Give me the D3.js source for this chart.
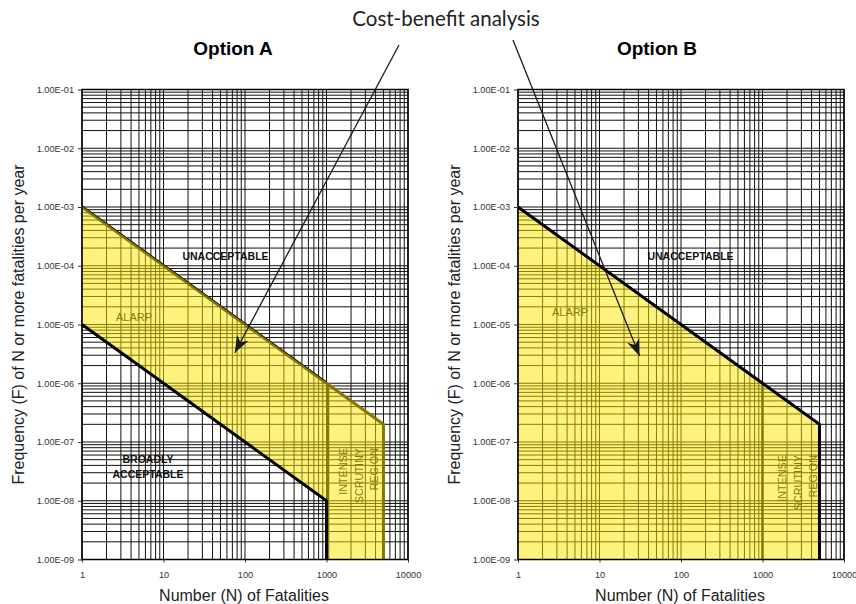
<!DOCTYPE html>
<html>
<head>
<meta charset="utf-8">
<script src="https://cdn.jsdelivr.net/npm/d3@7"></script>
<style>
  html, body { margin: 0; padding: 0; background: #fff; }
  svg { display: block; }
</style>
</head>
<body>
<svg id="chart" width="856" height="604"></svg>
<script>
// ---- data ----
const panelTitles = ["Option A", "Option B"];
const xTickValues = [1, 10, 100, 1000, 10000];
const xTickLabels = ["1", "10", "100", "1000", "10000"];
const yTickValues = [1e-1, 1e-2, 1e-3, 1e-4, 1e-5, 1e-6, 1e-7, 1e-8, 1e-9];
const yTickLabels = ["1.00E-01", "1.00E-02", "1.00E-03", "1.00E-04", "1.00E-05",
                     "1.00E-06", "1.00E-07", "1.00E-08", "1.00E-09"];
// upper (unacceptable) criterion line, N vs F
const upperN = [1, 1000, 5000];
const upperF = [1e-3, 1e-6, 2e-7];
// lower (broadly acceptable) criterion line, Option A only
const lowerN = [1, 1000];
const lowerF = [1e-5, 1e-8];
// intense scrutiny starts at N = 1000
const scrutinyN = 1000;
// arrow targets in the ALARP region (N, F) for each option
const arrowTargetN = [75, 31];
const arrowTargetF = [3.3e-6, 2.9e-6];

// ---- layout ----
const svg = d3.select("#chart");
const plotTop = 89.5, plotBottom = 559.5;
const panels = [
  { left: 82, right: 408, titleX: 233, yTitleX: 24, arrowFrom: [399, 45] },
  { left: 518, right: 844, titleX: 657, yTitleX: 460, arrowFrom: [513, 40] }
];
const fill = "rgba(255,232,0,0.5)";
const olive = "#857800";
const labelOlive = "#8a7b08";
const sans = "Liberation Sans, Arial, sans-serif";

svg.append("rect").attr("width", 856).attr("height", 604).attr("fill", "#fff");

svg.append("defs").append("marker")
  .attr("id", "arrowhead")
  .attr("viewBox", "-18 -8 20 16")
  .attr("refX", 0).attr("refY", 0)
  .attr("markerWidth", 20).attr("markerHeight", 16)
  .attr("markerUnits", "userSpaceOnUse")
  .attr("orient", "auto")
  .append("path")
  .attr("d", "M0,0 L-17,-6.5 L-12,0 L-17,6.5 Z")
  .attr("fill", "#1a1a1a");

const Nmin = 1, Nmax = 10000;
const Fmin = 1e-9, Fmax = 1e-1;

// values k*10^d across a log domain
function logGrid(lo, hi) {
  const out = [];
  for (let d = Math.round(Math.log10(lo)); d < Math.round(Math.log10(hi)); d++) {
    for (let k = 1; k <= 9; k++) out.push(k * Math.pow(10, d));
  }
  out.push(hi);
  return out;
}

panels.forEach((p, i) => {
  const x = d3.scaleLog().domain([Nmin, Nmax]).range([p.left, p.right]);
  const y = d3.scaleLog().domain([Fmin, Fmax]).range([plotBottom, plotTop]);
  const g = svg.append("g");

  // grid
  const grid = g.append("g").attr("stroke", "#111").attr("stroke-width", 1);
  logGrid(Nmin, Nmax).forEach(v => {
    grid.append("line").attr("x1", x(v)).attr("x2", x(v)).attr("y1", plotTop).attr("y2", plotBottom);
  });
  logGrid(Fmin, Fmax).forEach(v => {
    grid.append("line").attr("y1", y(v)).attr("y2", y(v)).attr("x1", p.left).attr("x2", p.right);
  });

  const upperPts = upperN.map((n, j) => [x(n), y(upperF[j])]);
  const lastUpper = [x(upperN[upperN.length - 1]), y(Fmin)];
  const line = d3.line();

  if (i === 0) {
    // ALARP band between the two criterion lines, plus the intense scrutiny column
    const lowerPts = lowerN.map((n, j) => [x(n), y(lowerF[j])]);
    const band = [
      ...upperPts,
      lastUpper,
      [x(scrutinyN), y(Fmin)],
      lowerPts[lowerPts.length - 1],
      lowerPts[0]
    ];
    g.append("path").attr("d", line(band) + "Z").attr("fill", fill);

    g.append("path")
      .attr("d", line([...upperPts, lastUpper]))
      .attr("fill", "none").attr("stroke", olive).attr("stroke-width", 3)
      .attr("stroke-linejoin", "miter");
    g.append("path")
      .attr("d", line(upperPts.slice(0, 2)))
      .attr("transform", "translate(0,-1.5)")
      .attr("fill", "none").attr("stroke", "#111").attr("stroke-width", 1);
    g.append("line")
      .attr("x1", x(scrutinyN) + 1.5).attr("x2", x(scrutinyN) + 1.5)
      .attr("y1", y(upperF[1])).attr("y2", plotBottom)
      .attr("stroke", olive).attr("stroke-width", 2.5);
    g.append("path")
      .attr("d", line([...lowerPts, [x(lowerN[lowerN.length - 1]), y(Fmin)]]))
      .attr("fill", "none").attr("stroke", "#000").attr("stroke-width", 3)
      .attr("stroke-linejoin", "miter");
  } else {
    const band = [...upperPts, lastUpper, [x(Nmin), y(Fmin)]];
    g.append("path").attr("d", line(band) + "Z").attr("fill", fill);
    g.append("line")
      .attr("x1", x(scrutinyN)).attr("x2", x(scrutinyN))
      .attr("y1", y(upperF[1])).attr("y2", plotBottom)
      .attr("stroke", olive).attr("stroke-width", 2.5);
    g.append("path")
      .attr("d", line([...upperPts, lastUpper]))
      .attr("fill", "none").attr("stroke", "#000").attr("stroke-width", 3)
      .attr("stroke-linejoin", "miter");
  }

  // frame
  g.append("rect")
    .attr("x", p.left).attr("y", plotTop)
    .attr("width", p.right - p.left).attr("height", plotBottom - plotTop)
    .attr("fill", "none").attr("stroke", "#000").attr("stroke-width", 1.5);

  // axes
  const yAxis = d3.axisLeft(y).tickValues(yTickValues)
    .tickFormat((d, j) => yTickLabels[j]).tickSize(4).tickPadding(4);
  const ya = g.append("g").attr("transform", `translate(${p.left},0)`).call(yAxis);
  const xAxis = d3.axisBottom(x).tickValues(xTickValues)
    .tickFormat((d, j) => xTickLabels[j]).tickSize(3).tickPadding(9);
  const xa = g.append("g").attr("transform", `translate(0,${plotBottom})`).call(xAxis);
  [ya, xa].forEach(a => {
    a.select(".domain").remove();
    a.selectAll("text").attr("font-family", sans)
      .attr("font-size", 9.2).attr("fill", "#333");
    a.selectAll("line").attr("stroke", "#333");
  });

  // titles
  g.append("text").attr("x", p.titleX).attr("y", 55).attr("text-anchor", "middle")
    .attr("font-family", sans)
    .attr("font-weight", "bold").attr("font-size", 19).text(panelTitles[i]);
  g.append("text").attr("x", (p.left + p.right) / 2 - 1).attr("y", 601)
    .attr("text-anchor", "middle")
    .attr("font-family", sans)
    .attr("font-size", 16).attr("fill", "#222").text("Number (N) of Fatalities");
  g.append("text")
    .attr("transform", `translate(${p.yTitleX},${(plotTop + plotBottom) / 2}) rotate(-90)`)
    .attr("text-anchor", "middle")
    .attr("font-family", sans)
    .attr("font-size", 16).attr("fill", "#222")
    .text("Frequency (F) of N or more fatalities per year");

  // region labels
  const lab = (tx, ty, txt, opts = {}) => g.append("text")
    .attr("x", tx).attr("y", ty).attr("text-anchor", "middle")
    .attr("font-family", sans)
    .attr("font-size", opts.size || 10.5)
    .attr("font-weight", opts.weight || "bold")
    .attr("fill", opts.color || "#111").text(txt);
  lab(i === 0 ? 225.5 : 690.5, 259.5, "UNACCEPTABLE");
  lab(i === 0 ? 134 : 570, i === 0 ? 320.5 : 315.5, "ALARP", { color: labelOlive, weight: "normal", size: 11 });
  if (i === 0) {
    lab(148, 463, "BROADLY");
    lab(148, 478, "ACCEPTABLE");
  }
  const colX = i === 0 ? [343, 358.5, 373.5] : [782, 797.5, 812.5];
  const colTop = i === 0 ? 448 : 455;
  ["INTENSE", "SCRUTINY", "REGION"].forEach((w, j) => {
    g.append("text")
      .attr("transform", `translate(${colX[j] + 4},${colTop}) rotate(-90)`)
      .attr("text-anchor", "end")
      .attr("font-family", sans)
      .attr("font-size", 10.8).attr("fill", labelOlive).text(w);
  });

  // cost-benefit arrow
  g.append("line")
    .attr("x1", p.arrowFrom[0]).attr("y1", p.arrowFrom[1])
    .attr("x2", x(arrowTargetN[i])).attr("y2", y(arrowTargetF[i]))
    .attr("stroke", "#1a1a1a").attr("stroke-width", 1.3)
    .attr("marker-end", "url(#arrowhead)");
});

svg.append("text").attr("x", 446).attr("y", 26).attr("text-anchor", "middle")
  .attr("font-family", "Lato, 'Noto Sans', sans-serif")
  .attr("font-size", 20.5).attr("fill", "#222")
  .text("Cost-benefit analysis");
</script>
</body>
</html>
